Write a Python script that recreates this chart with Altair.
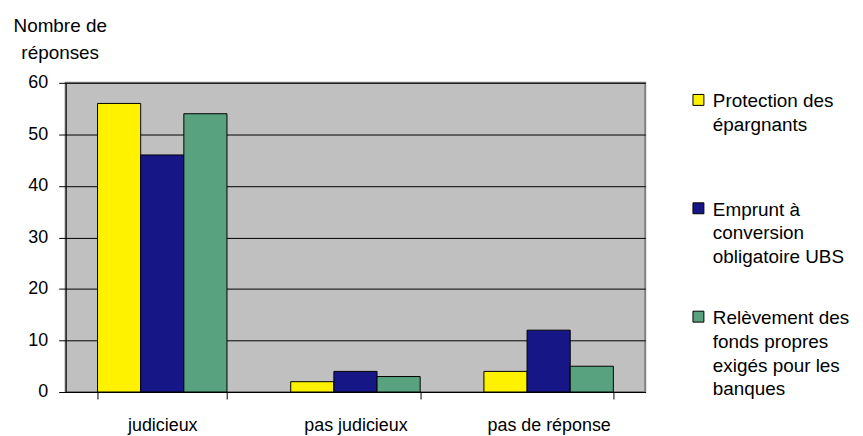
import altair as alt
import pandas as pd

categories = ["judicieux", "pas judicieux", "pas de réponse"]
series = [
    "Protection des épargnants",
    "Emprunt à conversion obligatoire UBS",
    "Relèvement des fonds propres exigés pour les banques",
]
protection = [56, 2, 4]
emprunt = [46, 4, 12]
relevement = [54, 3, 5]
colors = ["#FFF200", "#161687", "#58A27F"]
legend_lines = [
    ["Protection des", "épargnants"],
    ["Emprunt à", "conversion", "obligatoire UBS"],
    ["Relèvement des", "fonds propres", "exigés pour les", "banques"],
]
y_title = ["Nombre de", "réponses"]

rows = []
for s, vals in zip(series, [protection, emprunt, relevement]):
    for c, v in zip(categories, vals):
        rows.append({"cat": c, "serie": s, "n": v})
df = pd.DataFrame(rows)

# multi-line legend labels, padded to at least 3 lines so entries are evenly spaced
expr = "datum.label"
for s, lines in reversed(list(zip(series, legend_lines))):
    padded = lines + [""] * max(0, 3 - len(lines))
    arr = "[" + ",".join("'" + l + "'" for l in padded) + "]"
    expr = f"datum.label == '{s}' ? {arr} : ({expr})"

FONT = "Liberation Sans"
# square symbol shifted down so it lines up with the first text line
SYMBOL = "M-1,0.4H1V2.4H-1Z"

chart = alt.Chart(df).mark_bar(stroke="black", strokeWidth=1).encode(
    x=alt.X(
        "cat:N",
        sort=categories,
        scale=alt.Scale(paddingInner=0.33, paddingOuter=0.165),
        axis=alt.Axis(
            title=None, labelAngle=0, tickBand="extent", tickSize=7,
            tickColor="black", domainColor="black", labelFontSize=18,
            labelPadding=18, labelColor="black", labelFont=FONT,
        ),
    ),
    xOffset=alt.XOffset("serie:N", sort=series),
    y=alt.Y(
        "n:Q",
        scale=alt.Scale(domain=[0, 60]),
        axis=alt.Axis(
            values=[0, 10, 20, 30, 40, 50, 60], title=y_title, titleAngle=0,
            titleAlign="center", titleBaseline="alphabetic", titleX=-6, titleY=-52,
            titleLineHeight=28, titleFontSize=19, titleFontWeight="normal",
            titleFont=FONT, titleColor="black",
            tickSize=7, tickColor="black", domainColor="black",
            gridColor="black", gridOpacity=1, labelFontSize=18, labelPadding=11,
            labelColor="black", labelFont=FONT,
        ),
    ),
    color=alt.Color(
        "serie:N",
        sort=series,
        scale=alt.Scale(domain=series, range=colors),
        legend=alt.Legend(
            title=None, orient="none", legendX=627, legendY=0,
            symbolType=SYMBOL, symbolSize=121, symbolStrokeColor="black",
            symbolStrokeWidth=1, symbolOpacity=1, labelFontSize=19, labelFont=FONT,
            labelColor="black", labelLimit=0, labelOffset=5, rowPadding=32,
            labelExpr=expr, labelBaseline="top", padding=0,
        ),
    ),
).properties(
    width=583, height=311,
    autosize=alt.AutoSizeParams(type="none"),
    padding={"left": 58, "top": 74, "right": 211, "bottom": 45},
).configure(
    font=FONT,
    view=alt.ViewConfig(fill="#C0C0C0", stroke="#808080", strokeWidth=2),
    style={"guide-label": {"lineHeight": 24}},
)

chart.save("out.html", embed_options={"renderer": "svg", "actions": False})
